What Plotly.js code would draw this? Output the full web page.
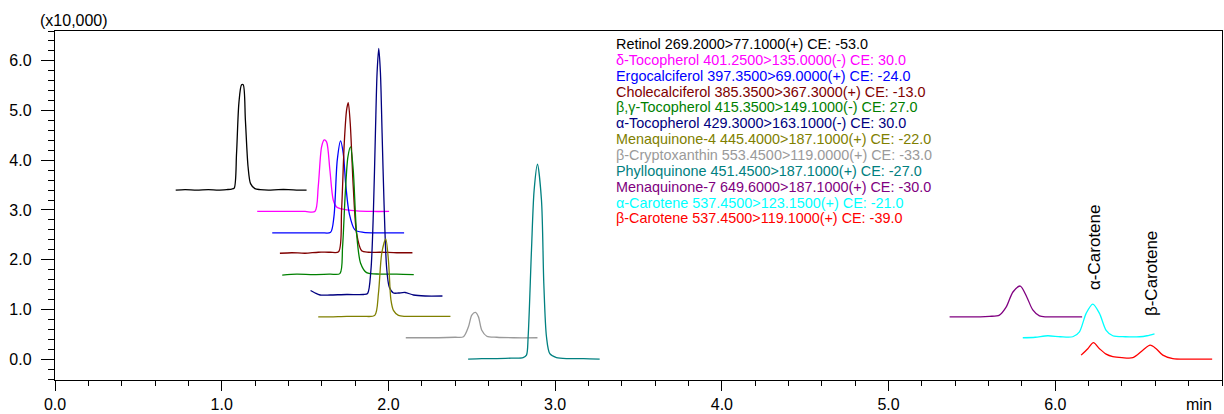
<!DOCTYPE html>
<html>
<head>
<meta charset="utf-8">
<script src="https://cdn.plot.ly/plotly-3.0.1.min.js"></script>
<style>
  html, body { margin: 0; padding: 0; background: #ffffff; }
  #chart { width: 1224px; height: 414px; }
</style>
</head>
<body>
<div id="chart"></div>
<script>
// ---- Data (retention time in min, intensity in x10,000 counts, as plotted with offsets) ----
const retinolTime = [0.724, 0.78, 0.85, 0.92, 0.98, 1.03, 1.06, 1.075, 1.089, 1.103, 1.119, 1.129, 1.142, 1.158, 1.173, 1.199, 1.23, 1.28, 1.34, 1.40, 1.46, 1.509];
const retinolInt  = [3.40, 3.41, 3.40, 3.41, 3.40, 3.41, 3.42, 3.44, 4.14, 5.15, 5.52, 5.52, 4.81, 3.87, 3.53, 3.43, 3.41, 3.40, 3.41, 3.41, 3.40, 3.40];

const deltaTocoTime = [1.213, 1.30, 1.40, 1.50, 1.559, 1.579, 1.599, 1.615, 1.629, 1.649, 1.669, 1.689, 1.72, 1.749, 1.809, 1.90, 2.004];
const deltaTocoInt  = [2.97, 2.97, 2.97, 2.97, 2.97, 3.47, 4.27, 4.41, 4.37, 3.80, 3.20, 3.06, 3.02, 3.00, 2.98, 2.97, 2.97];

const ergoTime = [1.303, 1.40, 1.50, 1.60, 1.653, 1.673, 1.693, 1.713, 1.729, 1.745, 1.765, 1.799, 1.85, 1.95, 2.094];
const ergoInt  = [2.54, 2.54, 2.54, 2.54, 2.55, 2.86, 4.00, 4.39, 4.14, 3.47, 2.93, 2.60, 2.55, 2.54, 2.54];

const cholecTime = [1.349, 1.42, 1.50, 1.58, 1.65, 1.701, 1.719, 1.735, 1.749, 1.759, 1.771, 1.789, 1.809, 1.839, 1.88, 1.95, 2.05, 2.144];
const cholecInt  = [2.13, 2.14, 2.13, 2.15, 2.15, 2.16, 3.00, 4.34, 5.01, 5.16, 4.74, 3.47, 2.53, 2.18, 2.15, 2.15, 2.14, 2.14];

const bgTocoTime = [1.363, 1.45, 1.55, 1.65, 1.709, 1.725, 1.741, 1.757, 1.773, 1.789, 1.809, 1.833, 1.869, 1.95, 2.05, 2.152];
const bgTocoInt  = [1.69, 1.71, 1.70, 1.71, 1.72, 2.26, 3.33, 4.07, 4.27, 3.80, 2.53, 1.93, 1.74, 1.71, 1.71, 1.70];

const aTocoTime = [1.533, 1.56, 1.59, 1.65, 1.75, 1.85, 1.875, 1.895, 1.910, 1.922, 1.932, 1.942, 1.952, 1.962, 1.974, 1.989, 2.005, 2.03, 2.06, 2.10, 2.15, 2.22, 2.324];
const aTocoInt  = [1.38, 1.33, 1.29, 1.29, 1.30, 1.30, 1.32, 1.79, 2.98, 4.55, 5.76, 6.25, 5.76, 4.55, 3.10, 1.85, 1.45, 1.33, 1.33, 1.34, 1.29, 1.27, 1.27];

const mk4Time = [1.579, 1.65, 1.75, 1.85, 1.918, 1.94, 1.96, 1.984, 2.00, 2.015, 2.03, 2.06, 2.10, 2.20, 2.30, 2.372];
const mk4Int  = [0.85, 0.85, 0.86, 0.86, 0.88, 1.32, 2.13, 2.42, 1.99, 1.19, 0.98, 0.88, 0.86, 0.86, 0.86, 0.86];

const cryptoTime = [2.104, 2.20, 2.30, 2.40, 2.45, 2.48, 2.50, 2.522, 2.54, 2.56, 2.59, 2.65, 2.75, 2.894];
const cryptoInt  = [0.43, 0.43, 0.43, 0.44, 0.45, 0.65, 0.885, 0.94, 0.85, 0.58, 0.46, 0.44, 0.43, 0.43];

const phylloTime = [2.478, 2.56, 2.65, 2.74, 2.808, 2.828, 2.838, 2.858, 2.874, 2.894, 2.918, 2.932, 2.948, 2.968, 3.008, 3.08, 3.17, 3.267];
const phylloInt  = [0.00, 0.01, 0.01, 0.02, 0.03, 0.08, 0.45, 2.19, 3.40, 3.92, 3.20, 1.52, 0.45, 0.11, 0.03, 0.01, 0.01, 0.00];

const mk7Time = [5.366, 5.45, 5.55, 5.605, 5.665, 5.706, 5.746, 5.79, 5.829, 5.865, 5.905, 5.945, 6.05, 6.161];
const mk7Int  = [0.85, 0.85, 0.85, 0.86, 0.885, 1.05, 1.35, 1.47, 1.25, 0.99, 0.87, 0.85, 0.85, 0.85];

const aCaroTime = [5.805, 5.88, 5.955, 6.03, 6.105, 6.145, 6.185, 6.225, 6.265, 6.305, 6.345, 6.42, 6.505, 6.55, 6.595];
const aCaroInt  = [0.43, 0.44, 0.47, 0.45, 0.45, 0.55, 0.92, 1.107, 0.92, 0.58, 0.47, 0.45, 0.45, 0.47, 0.51];

const bCaroTime = [6.155, 6.195, 6.229, 6.265, 6.305, 6.345, 6.40, 6.465, 6.525, 6.569, 6.605, 6.645, 6.705, 6.80, 6.941];
const bCaroInt  = [0.08, 0.21, 0.33, 0.21, 0.10, 0.05, 0.03, 0.03, 0.18, 0.28, 0.21, 0.08, 0.01, 0.00, 0.00];

const legendLabels = [
  "Retinol 269.2000>77.1000(+) CE: -53.0",
  "δ-Tocopherol 401.2500>135.0000(-) CE: 30.0",
  "Ergocalciferol 397.3500>69.0000(+) CE: -24.0",
  "Cholecalciferol 385.3500>367.3000(+) CE: -13.0",
  "β,γ-Tocopherol 415.3500>149.1000(-) CE: 27.0",
  "α-Tocopherol 429.3000>163.1000(-) CE: 30.0",
  "Menaquinone-4 445.4000>187.1000(+) CE: -22.0",
  "β-Cryptoxanthin 553.4500>119.0000(+) CE: -33.0",
  "Phylloquinone 451.4500>187.1000(+) CE: -27.0",
  "Menaquinone-7 649.6000>187.1000(+) CE: -30.0",
  "α-Carotene 537.4500>123.1500(+) CE: -21.0",
  "β-Carotene 537.4500>119.1000(+) CE: -39.0"
];
const peakLabels = ["α-Carotene", "β-Carotene"];
const peakLabelTimes = [6.235, 6.577];
const peakLabelHeights = [1.35, 0.825];
const xTickValues = [0, 1, 2, 3, 4, 5, 6];
const yTickValues = [0, 1, 2, 3, 4, 5, 6];

// ---- Styles ----
const seriesColors = ["#000000", "#ff00ff", "#0000ff", "#800000", "#008000", "#000080",
                      "#808000", "#9a9a9a", "#008080", "#800080", "#00ffff", "#ff0000"];
const seriesData = [
  [retinolTime, retinolInt], [deltaTocoTime, deltaTocoInt], [ergoTime, ergoInt],
  [cholecTime, cholecInt], [bgTocoTime, bgTocoInt], [aTocoTime, aTocoInt],
  [mk4Time, mk4Int], [cryptoTime, cryptoInt], [phylloTime, phylloInt],
  [mk7Time, mk7Int], [aCaroTime, aCaroInt], [bCaroTime, bCaroInt]
];

const FONT = "Liberation Sans, Arial, sans-serif";
const W = 1224, H = 414;
const M = { l: 55, r: 2, t: 31, b: 34 };
const plotW = W - M.l - M.r, plotH = H - M.t - M.b;
const px2paperX = px => (px - M.l) / plotW;
const px2paperY = py => (H - M.b - py) / plotH;

const traces = seriesData.map((d, k) => ({
  type: "scatter", mode: "lines",
  x: d[0], y: d[1],
  name: legendLabels[k],
  line: { color: seriesColors[k], width: 1.3, shape: "spline", smoothing: 0.8 },
  hoverinfo: "skip", showlegend: false
}));

const annotations = [];
legendLabels.forEach((txt, k) => {
  annotations.push({
    xref: "paper", yref: "paper",
    x: px2paperX(614), y: px2paperY(44 + k * 15.85),
    xanchor: "left", yanchor: "middle",
    text: txt, showarrow: false,
    font: { family: FONT, size: 14.4, color: seriesColors[k] }
  });
});
peakLabels.forEach((txt, k) => {
  annotations.push({
    xref: "x", yref: "y",
    x: peakLabelTimes[k], y: peakLabelHeights[k],
    xanchor: "center", yanchor: "bottom",
    textangle: -90, text: txt, showarrow: false,
    font: { family: FONT, size: 17, color: "#000000" }
  });
});
annotations.push({
  xref: "paper", yref: "paper",
  x: px2paperX(110), y: px2paperY(20),
  xanchor: "right", yanchor: "middle",
  text: "(x10,000)", showarrow: false,
  font: { family: FONT, size: 16, color: "#000000" }
});
annotations.push({
  xref: "paper", yref: "paper",
  x: px2paperX(1214), y: px2paperY(404),
  xanchor: "right", yanchor: "middle",
  text: "min", showarrow: false,
  font: { family: FONT, size: 16, color: "#000000" }
});

const layout = {
  width: W, height: H,
  margin: M,
  paper_bgcolor: "#ffffff", plot_bgcolor: "#ffffff",
  showlegend: false,
  font: { family: FONT, size: 16, color: "#000000" },
  xaxis: {
    range: [0, 7.0],
    tickmode: "array", tickvals: xTickValues,
    tickformat: ".1f",
    ticks: "outside", ticklen: 10, tickwidth: 1, tickcolor: "#000000",
    minor: { dtick: 0.2, tick0: 0, ticks: "outside", ticklen: 5, tickwidth: 1, tickcolor: "#000000", showgrid: false },
    showline: true, linecolor: "#000000", linewidth: 1.2, mirror: true,
    showgrid: false, zeroline: false,
    tickfont: { family: FONT, size: 16, color: "#000000" }
  },
  yaxis: {
    range: [-0.42, 6.6],
    tickmode: "array", tickvals: yTickValues,
    tickformat: ".1f",
    ticks: "outside", ticklen: 13, tickwidth: 1, tickcolor: "#000000",
    minor: { dtick: 0.2, tick0: 0, ticks: "outside", ticklen: 6, tickwidth: 1, tickcolor: "#000000", showgrid: false },
    showline: true, linecolor: "#000000", linewidth: 1.2, mirror: true,
    showgrid: false, zeroline: false,
    ticklabelstandoff: 6,
    tickfont: { family: FONT, size: 16, color: "#000000" }
  },
  annotations: annotations
};

Plotly.newPlot("chart", traces, layout, { staticPlot: true, displayModeBar: false });
</script>
</body>
</html>
